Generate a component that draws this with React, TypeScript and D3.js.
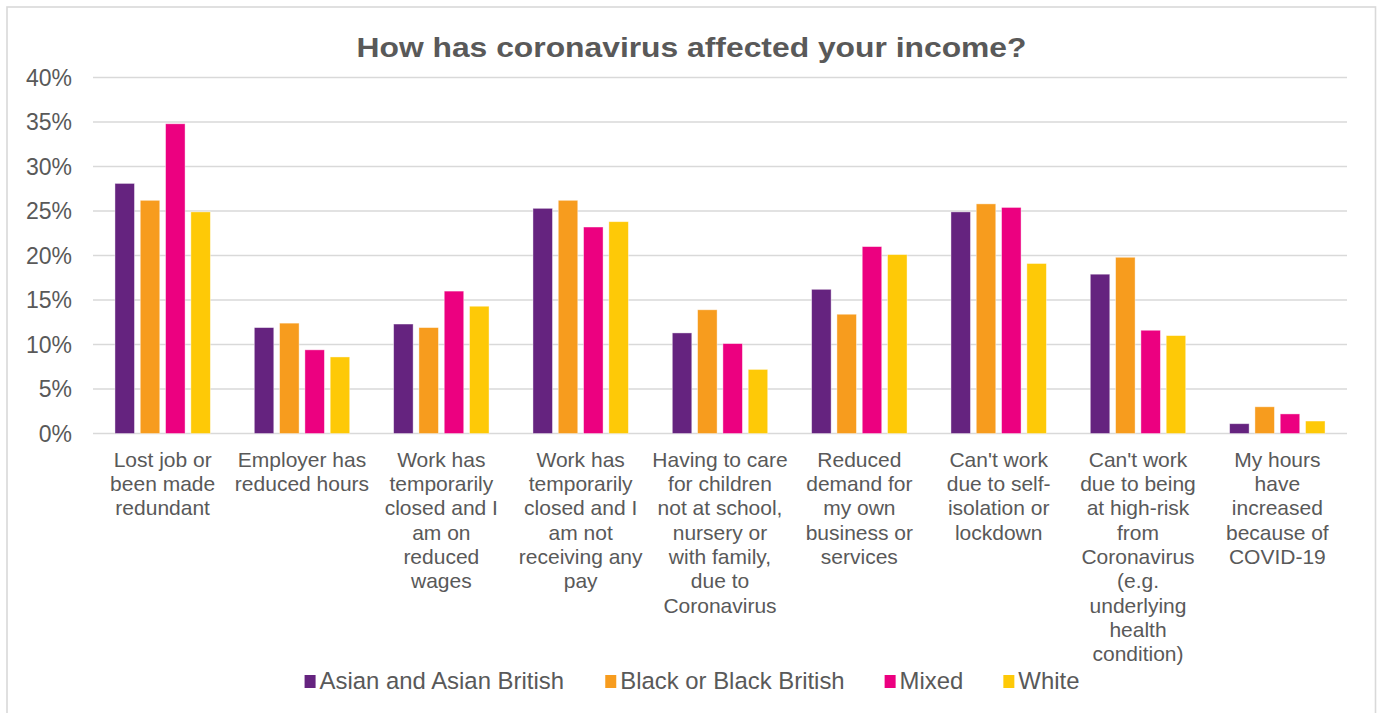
import React from "react";
import * as d3 from "d3";

const TITLE = "How has coronavirus affected your income?";

const categories: string[][] = [
  ["Lost job or", "been made", "redundant"],
  ["Employer has", "reduced hours"],
  ["Work has", "temporarily", "closed and I", "am on", "reduced", "wages"],
  ["Work has", "temporarily", "closed and I", "am not", "receiving any", "pay"],
  ["Having to care", "for children", "not at school,", "nursery or", "with family,", "due to", "Coronavirus"],
  ["Reduced", "demand for", "my own", "business or", "services"],
  ["Can't work", "due to self-", "isolation or", "lockdown"],
  ["Can't work", "due to being", "at high-risk", "from", "Coronavirus", "(e.g.", "underlying", "health", "condition)"],
  ["My hours", "have", "increased", "because of", "COVID-19"],
];

const seriesNames = ["Asian and Asian British", "Black or Black British", "Mixed", "White"];
const seriesColors = ["#65237f", "#f79c1e", "#ec0080", "#fec907"];

const asian = [0.281, 0.119, 0.123, 0.253, 0.113, 0.162, 0.249, 0.179, 0.011];
const black = [0.262, 0.124, 0.119, 0.262, 0.139, 0.134, 0.258, 0.198, 0.030];
const mixed = [0.348, 0.094, 0.160, 0.232, 0.101, 0.210, 0.254, 0.116, 0.022];
const white = [0.249, 0.086, 0.143, 0.238, 0.072, 0.201, 0.191, 0.110, 0.014];
const seriesValues = [asian, black, mixed, white];

const yTicks = [0, 0.05, 0.1, 0.15, 0.2, 0.25, 0.3, 0.35, 0.4];

const W = 1381;
const H = 713;
const FONT = '"Liberation Sans", Arial, Helvetica, sans-serif';
const TEXT = "#595959";
const GRID = "#d9d9d9";

function measure(text: string, size: number): number {
  const c = document.createElement("canvas").getContext("2d");
  if (!c) return text.length * size * 0.5;
  c.font = `${size}px "Liberation Sans", Arial, sans-serif`;
  return c.measureText(text).width;
}

export default function App() {
  const plotLeft = 93;
  const plotRight = 1347;
  const y = d3.scaleLinear().domain([0, 0.4]).range([433.5, 77.5]);
  const x = d3
    .scaleBand<number>()
    .domain(d3.range(categories.length))
    .range([plotLeft, plotRight])
    .paddingInner(0)
    .paddingOuter(0);
  const groupW = 95.4;
  const inner = d3
    .scaleBand<number>()
    .domain(d3.range(seriesNames.length))
    .range([0, groupW])
    .paddingInner(0.23)
    .paddingOuter(0);

  // legend: swatch + label items laid out in a row, centred under the chart
  const legendFont = 23.9;
  const sw = 11;
  const swGap = 4;
  const itemGap = 40;
  let cursor = 0;
  const legendItems = seriesNames.map((name, i) => {
    const start = cursor;
    const tw = measure(name, legendFont);
    cursor += sw + swGap + tw + (i < seriesNames.length - 1 ? itemGap : 0);
    return { name, color: seriesColors[i], start };
  });
  const legendX = 692 - cursor / 2;

  const lineH = 24.3;

  return (
    <svg
      width={W}
      height={H}
      style={{ position: "absolute", left: 0, top: 0, background: "#fff" }}
      fontFamily={FONT}
    >
      <rect x={7} y={7} width={1368.5} height={730} fill="#fff" stroke={GRID} strokeWidth={1.6} />

      <text
        x={691.5}
        y={56.5}
        textAnchor="middle"
        fontSize={28.5}
        fontWeight="bold"
        fill={TEXT}
        textLength={670}
        lengthAdjust="spacingAndGlyphs"
      >
        {TITLE}
      </text>

      {yTicks.map((t) => (
        <g key={t}>
          <line x1={plotLeft} x2={plotRight} y1={y(t)} y2={y(t)} stroke={GRID} strokeWidth={1.5} />
          <text x={72} y={y(t) + 8.2} textAnchor="end" fontSize={23} fill={TEXT}>
            {d3.format(".0%")(t)}
          </text>
        </g>
      ))}

      {categories.map((lines, ci) => {
        const cx = (x(ci) ?? 0) + x.bandwidth() / 2;
        const gx = cx - groupW / 2;
        return (
          <g key={ci}>
            {seriesValues.map((vals, si) => (
              <rect
                key={si}
                x={gx + (inner(si) ?? 0)}
                y={y(vals[ci])}
                width={inner.bandwidth()}
                height={y(0) - y(vals[ci])}
                fill={seriesColors[si]}
                stroke="#ffffff"
                strokeOpacity={0.5}
                strokeWidth={0.8}
              />
            ))}
            <text textAnchor="middle" fontSize={21} fill={TEXT}>
              {lines.map((ln, li) => (
                <tspan key={li} x={cx} y={466.7 + li * lineH}>
                  {ln}
                </tspan>
              ))}
            </text>
          </g>
        );
      })}

      <g transform={`translate(${legendX},0)`}>
        {legendItems.map((it) => (
          <g key={it.name}>
            <rect x={it.start} y={675} width={sw} height={13} fill={it.color} />
            <text x={it.start + sw + swGap} y={689} fontSize={legendFont} fill={TEXT}>
              {it.name}
            </text>
          </g>
        ))}
      </g>
    </svg>
  );
}
